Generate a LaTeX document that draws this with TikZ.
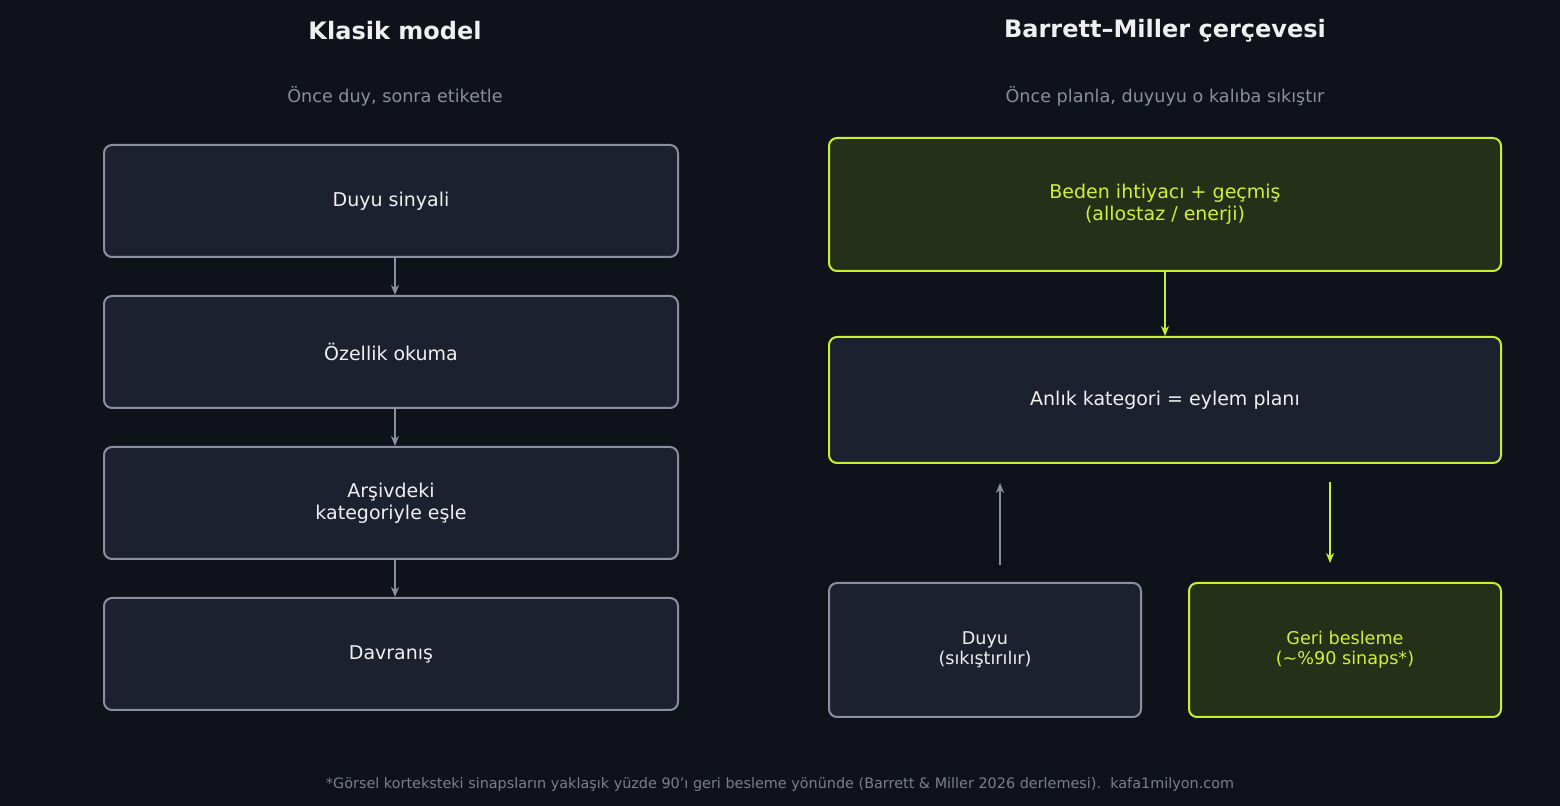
\documentclass[tikz,border=0pt]{standalone}
\usepackage{fontspec}
\setmainfont{DejaVu Sans}
\usetikzlibrary{positioning,arrows.meta}
\definecolor{bg}{HTML}{0F121A}
\definecolor{boxfill}{HTML}{1C2130}
\definecolor{boxline}{HTML}{8A90A0}
\definecolor{lime}{HTML}{C8F02C}
\definecolor{limetext}{HTML}{D2F03A}
\definecolor{olive}{HTML}{253018}
\definecolor{subgrey}{HTML}{8A8F9A}
\definecolor{footgrey}{HTML}{7A7F8A}
\definecolor{txt}{HTML}{F0F0F0}
\tikzset{
  box/.style={draw=boxline,fill=boxfill,line width=1pt,rounded corners=4pt,
    text=txt,align=center,font=\fontsize{9.5}{11}\selectfont,inner sep=0pt},
  hot/.style={box,draw=lime,fill=olive,text=limetext},
  hotline/.style={box,draw=lime},
  arr/.style={-{Stealth[length=5pt,width=4pt]},line width=1.2pt,boxline},
  harr/.style={arr,lime},
  title/.style={text=txt,font=\fontsize{12}{14}\selectfont\bfseries},
  sub/.style={text=subgrey,font=\fontsize{8.8}{10}\selectfont}
}
\begin{document}
\begin{tikzpicture}[x=0.5pt,y=-0.5pt]
\fill[bg] (0,0) rectangle (1560,806);
\useasboundingbox (0,0) rectangle (1560,806);
% left column
\node[title] (tl) at (395,31) {Klasik model};
\node[sub] (sl) at (395,96) {Önce duy, sonra etiketle};
\node[box,minimum width=287pt,minimum height=56pt] (b1) at (391,201) {Duyu sinyali};
\node[box,minimum width=287pt,minimum height=56pt] (b2) at (391,352) {Özellik okuma};
\node[box,minimum width=287pt,minimum height=56pt] (b3) at (391,503) {Arşivdeki\\kategoriyle eşle};
\node[box,minimum width=287pt,minimum height=56pt] (b4) at (391,654) {Davranış};
\foreach \a/\b in {b1/b2,b2/b3,b3/b4}
  \draw[arr] ([xshift=2pt]\a.south) -- ([xshift=2pt]\b.north);
% right column
\node[title] (tr) at (1165,31) {Barrett–Miller çerçevesi};
\node[sub] (sr) at (1165,96) {Önce planla, duyuyu o kalıba sıkıştır};
\node[hot,minimum width=336pt,minimum height=66.5pt] (need) at (1165,204.5) {Beden ihtiyacı + geçmiş\\(allostaz / enerji)};
\node[hotline,minimum width=336pt,minimum height=63pt] (plan) at (1165,400) {Anlık kategori = eylem planı};
\node[box,minimum width=156pt,minimum height=67pt,font=\fontsize{8.8}{10}\selectfont] (sense) at (985,650) {Duyu\\(sıkıştırılır)};
\node[hot,minimum width=156pt,minimum height=67pt,font=\fontsize{8.8}{10}\selectfont] (fb) at (1345,650) {Geri besleme\\(\textasciitilde\%90 sinaps*)};
\draw[harr] (need.south) -- (plan.north);
\coordinate (up0) at (1000,565); \coordinate (up1) at (1000,483);
\coordinate (dn0) at (1330,482); \coordinate (dn1) at (1330,563);
\draw[arr] (up0) -- (up1);
\draw[harr] (dn0) -- (dn1);
\node[text=footgrey,font=\fontsize{7.2}{9}\selectfont] (foot) at (780,785) {*Görsel korteksteki sinapsların yaklaşık yüzde 90'ı geri besleme yönünde (Barrett \& Miller 2026 derlemesi).\ \ kafa1milyon.com};
\end{tikzpicture}
\end{document}
